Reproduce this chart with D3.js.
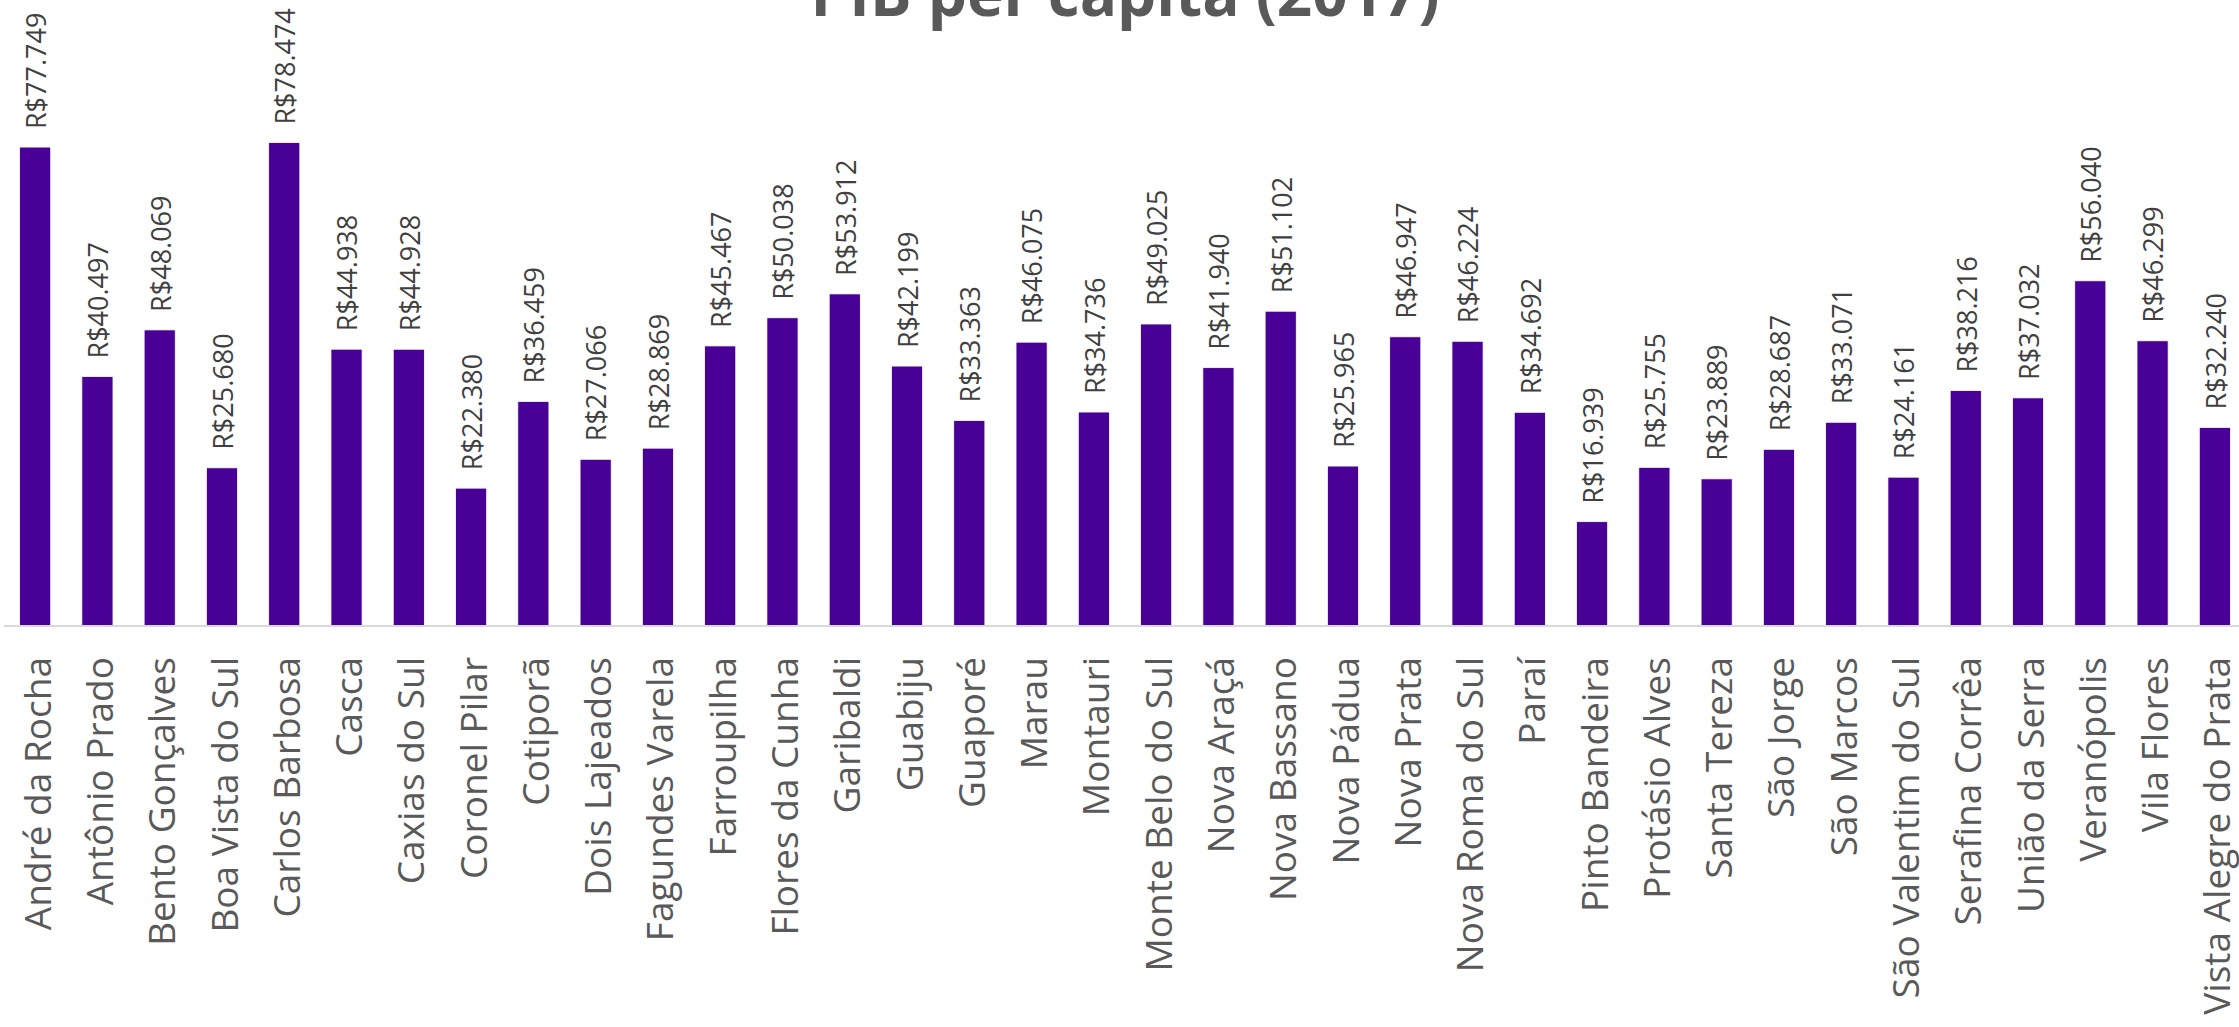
<!DOCTYPE html>
<html>
<head>
<meta charset="utf-8">
<script src="https://cdn.jsdelivr.net/npm/d3@7"></script>
<style>
  html, body { margin: 0; padding: 0; background: #fff; overflow: hidden; }
  svg { display: block; }
</style>
</head>
<body>
<svg id="chart" width="2239" height="1027"></svg>
<script>
const title = "PIB per capita (2017)";
const categories = [
  "André da Rocha", "Antônio Prado", "Bento Gonçalves", "Boa Vista do Sul", "Carlos Barbosa",
  "Casca", "Caxias do Sul", "Coronel Pilar", "Cotiporã", "Dois Lajeados", "Fagundes Varela",
  "Farroupilha", "Flores da Cunha", "Garibaldi", "Guabiju", "Guaporé", "Marau", "Montauri",
  "Monte Belo do Sul", "Nova Araçá", "Nova Bassano", "Nova Pádua", "Nova Prata",
  "Nova Roma do Sul", "Paraí", "Pinto Bandeira", "Protásio Alves", "Santa Tereza",
  "São Jorge", "São Marcos", "São Valentim do Sul", "Serafina Corrêa", "União da Serra",
  "Veranópolis", "Vila Flores", "Vista Alegre do Prata"
];
const values = [
  77749, 40497, 48069, 25680, 78474,
  44938, 44928, 22380, 36459, 27066, 28869,
  45467, 50038, 53912, 42199, 33363, 46075, 34736,
  49025, 41940, 51102, 25965, 46947,
  46224, 34692, 16939, 25755, 23889,
  28687, 33071, 24161, 38216, 37032,
  56040, 46299, 32240
];
const yDomain = [0, 90000];

const data = categories.map((c, i) => ({ cat: c, val: values[i] }));
const svg = d3.select("#chart");

const x = d3.scaleBand().domain(categories).range([4, 2246]).paddingInner(0.5).paddingOuter(0.25);
const y = d3.scaleLinear().domain(yDomain).range([626, 71.6]);

const fmt = v => "R$" + d3.format(",")(v).replace(/,/g, ".");

// bars
svg.append("g").selectAll("rect").data(data).join("rect")
  .attr("x", d => x(d.cat))
  .attr("y", d => y(d.val))
  .attr("width", x.bandwidth())
  .attr("height", d => y(0) - y(d.val))
  .attr("fill", "#480096")
  .attr("stroke", "#ffffff")
  .attr("stroke-width", 0.8);

// axis
const xAxis = d3.axisBottom(x).tickSize(0).tickPadding(0);
const gx = svg.append("g").attr("transform", `translate(0,${y(0)})`).call(xAxis);
gx.select(".domain").attr("stroke", "#d9d9d9").attr("stroke-width", 2)
  .attr("d", `M4,0H2239`);
gx.selectAll(".tick text")
  .attr("transform", "translate(0,31) rotate(-90)")
  .attr("x", 0).attr("y", 0).attr("dy", "0.42em")
  .attr("text-anchor", "end")
  .attr("fill", "#595959")
  .style("font-family", "'Open Sans', 'Noto Sans', sans-serif")
  .style("font-size", "37px");

// data labels
svg.append("g").selectAll("text").data(data).join("text")
  .attr("transform", d => `translate(${x(d.cat) + x.bandwidth() / 2},${y(d.val) - 18}) rotate(-90)`)
  .attr("dy", "0.4em")
  .attr("text-anchor", "start")
  .attr("fill", "#404040")
  .style("font-family", "'Open Sans', 'Noto Sans', sans-serif")
  .style("font-size", "27px")
  .text(d => fmt(d.val));

// title
svg.append("text")
  .attr("x", 1125).attr("y", 16)
  .attr("text-anchor", "middle")
  .attr("fill", "#595959")
  .style("font-family", "'Open Sans', 'Noto Sans', sans-serif")
  .style("font-weight", "bold")
  .style("font-size", "62px")
  .text(title);
</script>
</body>
</html>
